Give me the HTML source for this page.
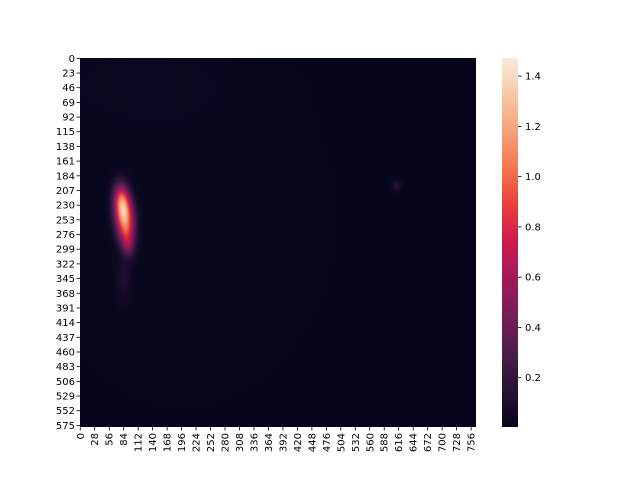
<!DOCTYPE html>
<html><head><meta charset="utf-8"><style>
body{margin:0;background:#fff;}
#wrap{position:relative;width:640px;height:480px;overflow:hidden;font-family:"DejaVu Sans","Liberation Sans",sans-serif;}
canvas{position:absolute;}
svg{position:absolute;left:0;top:0;}
</style></head><body>
<div id="wrap">
<canvas id="hm" width="396" height="369" style="left:80px;top:58px"></canvas>
<canvas id="cb" width="16" height="369" style="left:502px;top:58px"></canvas>
<svg id="ax" width="640" height="480"></svg>
</div>
<script>
const nRows = 578;
const nCols = 766;
const vmin = 0.004;
const vmax = 1.472;
const baseValue = 0.012;
// hotspots: [row, col, amplitude, sdRow, sdCol]
const hotRows = [250, 222, 288, 345, 200, 40, 250];
const hotCols = [86, 80, 92, 84, 612, 120, 200];
const hotAmps = [1.1, 0.6, 0.35, 0.09, 0.14, 0.025, 0.015];
const hotSdR = [24, 18, 16, 25, 6, 40, 150];
const hotSdC = [12, 10, 9, 10, 6, 120, 150];
const yTicks = [0,23,46,69,92,115,138,161,184,207,230,253,276,299,322,345,368,391,414,437,460,483,506,529,552,575];
const xTicks = [0,28,56,84,112,140,168,196,224,252,280,308,336,364,392,420,448,476,504,532,560,588,616,644,672,700,728,756];
const cbTicks = [0.2,0.4,0.6,0.8,1.0,1.2,1.4];

const stops=[[0,[3,5,26]],[0.1,[40,18,54]],[0.2,[76,29,75]],[0.3,[118,30,88]],[0.4,[161,26,91]],[0.5,[203,27,79]],[0.6,[232,63,63]],[0.7,[243,118,81]],[0.8,[246,160,122]],[0.9,[248,201,165]],[1,[250,235,221]]];
function cmap(t){t=Math.max(0,Math.min(1,t));for(let i=1;i<stops.length;i++){if(t<=stops[i][0]){const a=stops[i-1],b=stops[i];const f=(t-a[0])/(b[0]-a[0]);return a[1].map((v,k)=>Math.round(v+(b[1][k]-v)*f));}}return stops[stops.length-1][1];}
const W=396,H=369,X0=80,Y0=58;
const xs=c=>X0+(c+0.5)*W/nCols, ys=r=>Y0+(r+0.5)*H/nRows;
const hm=document.getElementById('hm').getContext('2d');
const img=hm.createImageData(W,H);
for(let py=0;py<H;py++){const r=(py+0.5)*nRows/H;for(let px=0;px<W;px++){const c=(px+0.5)*nCols/W;let v=baseValue;
for(let k=0;k<hotRows.length;k++){const dr=(r-hotRows[k])/hotSdR[k];const tilt=(r-hotRows[k])*0.08;const dc=(c-hotCols[k]-(k<3?tilt:0))/hotSdC[k];v+=hotAmps[k]*Math.exp(-0.5*(dr*dr+dc*dc));}
const col=cmap((v-vmin)/(vmax-vmin));const i=(py*W+px)*4;img.data[i]=col[0];img.data[i+1]=col[1];img.data[i+2]=col[2];img.data[i+3]=255;}}
hm.putImageData(img,0,0);
const cb=document.getElementById('cb').getContext('2d');
for(let py=0;py<H;py++){const col=cmap(1-(py+0.5)/H);cb.fillStyle=`rgb(${col})`;cb.fillRect(0,py,16,1);}
const svg=document.getElementById('ax');const NS='http://www.w3.org/2000/svg';
function el(t,a,txt){const e=document.createElementNS(NS,t);for(const k in a)e.setAttribute(k,a[k]);if(txt!==undefined)e.textContent=txt;svg.appendChild(e);return e;}
yTicks.forEach(v=>{const y=ys(v);
const l=el('line',{x1:X0-3.5,x2:X0,y1:y,y2:y,stroke:'#000','stroke-width':0.8});
const t=el('text',{x:X0-5,y:y+3.5,'font-size':10,'text-anchor':'end'},v);});
xTicks.forEach(v=>{const x=xs(v);
const l=el('line',{x1:x,x2:x,y1:Y0+H,y2:Y0+H+3.5,stroke:'#000','stroke-width':0.8});
const t=el('text',{x:0,y:0,'font-size':10,'text-anchor':'end',transform:`translate(${x+3.5},${Y0+H+6}) rotate(-90)`},v);});
cbTicks.forEach(v=>{const y=Y0+H-(v-vmin)/(vmax-vmin)*H;
const l=el('line',{x1:518,x2:521.5,y1:y,y2:y,stroke:'#000','stroke-width':0.8});
const t=el('text',{x:525,y:y+3.5,'font-size':10},v.toFixed(1));});
</script>
</body></html>
